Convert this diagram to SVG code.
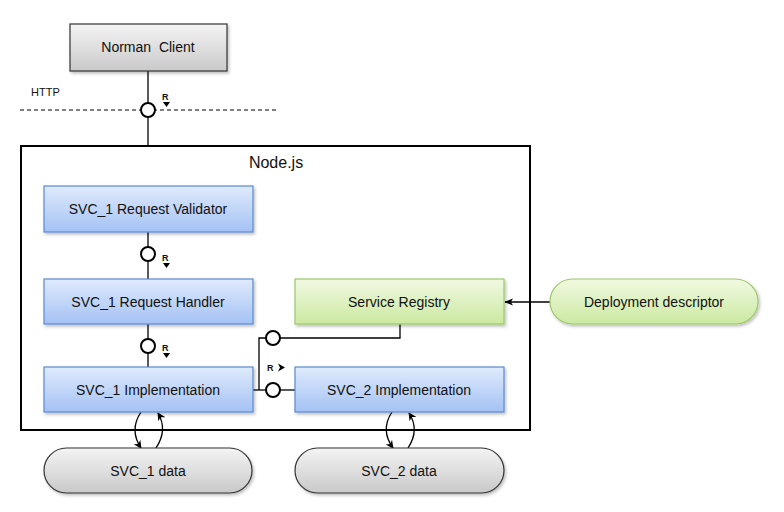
<svg xmlns="http://www.w3.org/2000/svg" width="784" height="512" viewBox="0 0 784 512">
<style>
text{font-family:"Liberation Sans",Arial,sans-serif;font-size:14px;fill:#111;}
.lbl{text-anchor:middle;dominant-baseline:central;}
.r{font-size:9px;font-weight:bold;}
.ln{fill:none;stroke:#000;stroke-width:1.3;}
.ifc{fill:#fff;stroke:#000;stroke-width:2;}
.blue{fill:url(#gBlue);stroke:#5a8ad0;stroke-width:1.2;filter:url(#sh);}
.green{fill:url(#gGreen);stroke:#9cc86a;stroke-width:1.2;filter:url(#sh);}
.gray{fill:url(#gGray);stroke:#333;stroke-width:1.2;filter:url(#sh);}
</style>
<defs>
<linearGradient id="gBlue" x1="0" y1="0" x2="0" y2="1"><stop offset="0" stop-color="#dfeafc"/><stop offset="1" stop-color="#a4c2f4"/></linearGradient>
<linearGradient id="gGreen" x1="0" y1="0" x2="0" y2="1"><stop offset="0" stop-color="#f1f9e2"/><stop offset="1" stop-color="#cbe9a0"/></linearGradient>
<linearGradient id="gGray" x1="0" y1="0" x2="0" y2="1"><stop offset="0" stop-color="#f4f4f4"/><stop offset="1" stop-color="#c9c9c9"/></linearGradient>
<filter id="sh" x="-10%" y="-20%" width="125%" height="150%"><feDropShadow dx="1.5" dy="2" stdDeviation="1.5" flood-color="#000" flood-opacity="0.25"/></filter>
<marker id="ah" viewBox="0 0 10 10" refX="9" refY="5" markerWidth="8" markerHeight="8" orient="auto-start-reverse" markerUnits="userSpaceOnUse"><path d="M0,0 L10,5 L0,10 L3,5 z" fill="#000"/></marker>
<marker id="ah2" viewBox="0 0 10 10" refX="9" refY="5" markerWidth="9" markerHeight="9" orient="auto" markerUnits="userSpaceOnUse"><path d="M0,1 L10,5 L0,9 L2.5,5 z" fill="#000"/></marker>
</defs>

<g id="node-js">
<rect x="21" y="146" width="509" height="284" fill="#fff" stroke="#000" stroke-width="2"/>
<text x="276" y="162" class="lbl" style="font-size:16px">Node.js</text>
</g>

<g id="http-boundary">
<line x1="20" y1="110" x2="277" y2="110" stroke="#000" stroke-width="1" stroke-dasharray="4,3"/>
<text x="31" y="96" style="font-size:11px">HTTP</text>
</g>

<g id="connectors">
<line class="ln" x1="148" y1="71" x2="148" y2="146"/>
<line class="ln" x1="148" y1="232" x2="148" y2="279"/>
<line class="ln" x1="148" y1="324" x2="148" y2="367"/>
<polyline class="ln" points="400,324 400,338 280,338"/>
<polyline class="ln" points="266,338 259,338 259,390"/>
<line class="ln" x1="253" y1="390" x2="266" y2="390"/>
<line class="ln" x1="280" y1="390" x2="295" y2="390"/>
<line class="ln" x1="550" y1="302" x2="505" y2="302" marker-end="url(#ah2)"/>
<circle class="ifc" cx="148" cy="110" r="7"/>
<circle class="ifc" cx="148" cy="254" r="7"/>
<circle class="ifc" cx="148" cy="346" r="7"/>
<circle class="ifc" cx="273" cy="338" r="7"/>
<circle class="ifc" cx="273" cy="390" r="7"/>
<text x="162" y="100" class="r">R</text>
<path d="M163,102 L170,102 L166.5,107 z" fill="#000"/>
<text x="162" y="261" class="r">R</text>
<path d="M163,263 L170,263 L166.5,268 z" fill="#000"/>
<text x="162" y="351" class="r">R</text>
<path d="M163,353 L170,353 L166.5,358 z" fill="#000"/>
<text x="267" y="371" class="r">R</text>
<path d="M278,363.5 L285,367.5 L278,371.5 L280,367.5 z" fill="#000"/>
<path class="ln" d="M141,412 Q129,430 141,448" marker-end="url(#ah)"/>
<path class="ln" d="M156,448 Q168,430 158,413" marker-end="url(#ah)"/>
<path class="ln" d="M392,412 Q380,430 393,448" marker-end="url(#ah)"/>
<path class="ln" d="M408,448 Q420,430 409,413" marker-end="url(#ah)"/>
</g>

<g id="norman-client">
<rect class="gray" x="70" y="24" width="157" height="47"/>
<text x="148" y="47" class="lbl" xml:space="preserve">Norman  Client</text>
</g>

<g id="svc1-request-validator">
<rect class="blue" x="44" y="186" width="209" height="46"/>
<text x="148" y="209" class="lbl">SVC_1 Request Validator</text>
</g>

<g id="svc1-request-handler">
<rect class="blue" x="44" y="279" width="209" height="45"/>
<text x="148" y="302" class="lbl">SVC_1 Request Handler</text>
</g>

<g id="svc1-implementation">
<rect class="blue" x="44" y="367" width="209" height="45"/>
<text x="148" y="390" class="lbl">SVC_1 Implementation</text>
</g>

<g id="service-registry">
<rect class="green" x="295" y="279" width="209" height="45"/>
<text x="399" y="302" class="lbl">Service Registry</text>
</g>

<g id="svc2-implementation">
<rect class="blue" x="295" y="367" width="209" height="45"/>
<text x="399" y="390" class="lbl">SVC_2 Implementation</text>
</g>

<g id="deployment-descriptor">
<rect class="green" x="550" y="279" width="208" height="45" rx="22.5"/>
<text x="654" y="302" class="lbl">Deployment descriptor</text>
</g>

<g id="svc1-data">
<rect class="gray" x="44" y="448" width="208" height="45" rx="22.5"/>
<text x="148" y="471" class="lbl">SVC_1 data</text>
</g>

<g id="svc2-data">
<rect class="gray" x="295" y="448" width="209" height="45" rx="22.5"/>
<text x="399" y="471" class="lbl">SVC_2 data</text>
</g>
</svg>
